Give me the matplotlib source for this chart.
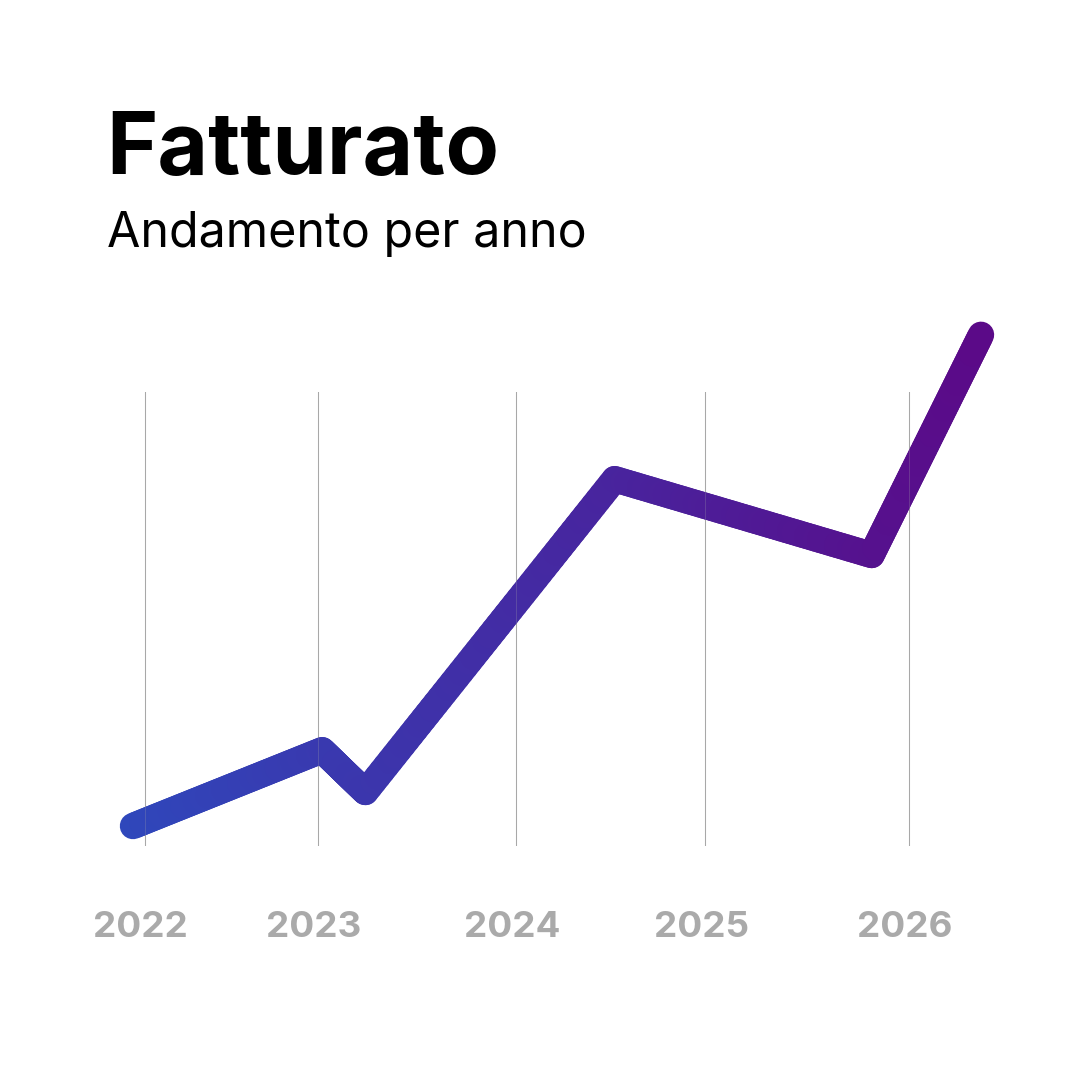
import numpy as np
import matplotlib.pyplot as plt
import matplotlib.transforms as mtransforms
from matplotlib.collections import LineCollection
from matplotlib.colors import LinearSegmentedColormap

# data (arbitrary units)
x_pts = [0.0, 22.3, 27.4, 56.8, 87.1, 100.0]
y_pts = [4.4, 21.1, 11.9, 80.8, 64.1, 112.6]
tick_pos = [1.4, 21.8, 45.2, 67.5, 91.5]
tick_lbl = ['2022', '2023', '2024', '2025', '2026']

title = 'Fatturato'
subtitle = 'Andamento per anno'

plt.rcParams['font.family'] = ['Inter', 'DejaVu Sans']

W = 1074
fig = plt.figure(figsize=(W / 100, W / 100), dpi=100)
fig.patch.set_facecolor('white')

# axes placed so the grid runs from y=392 to y=846 px
ax = fig.add_axes([133 / W, (W - 846) / W, 848 / W, 454 / W])
ax.set_xlim(0, 100)
ax.set_ylim(0, 100)
for s in ax.spines.values():
    s.set_visible(False)
ax.set_yticks([])
ax.set_xticks(tick_pos, tick_lbl)
ax.tick_params(axis='x', length=0, pad=47, labelsize=26.5, labelcolor='#aaaaaa')
shift = mtransforms.ScaledTranslation(-4 / 100, 0, fig.dpi_scale_trans)
for lab in ax.get_xticklabels():
    lab.set_fontweight('bold')
    lab.set_transform(lab.get_transform() + shift)
ax.grid(axis='x', color='#a8a8a8', linewidth=0.75)
ax.set_axisbelow(True)

# gradient line: split each segment into small pieces coloured by x
cmap = LinearSegmentedColormap.from_list('grad', ['#2f47bb', '#5b0a88'])
segs = []
cols = []
n = 60
for i in range(len(x_pts) - 1):
    xs = np.linspace(x_pts[i], x_pts[i + 1], n + 1)
    ys = np.linspace(y_pts[i], y_pts[i + 1], n + 1)
    for j in range(n):
        segs.append([(xs[j], ys[j]), (xs[j + 1], ys[j + 1])])
        cols.append(cmap((xs[j] + xs[j + 1]) / 2 / 100))
lc = LineCollection(segs, colors=cols, linewidths=19, capstyle='round',
                    joinstyle='round', clip_on=False, zorder=3)
ax.add_collection(lc)

# faint grid showing through the line
for t in tick_pos:
    ax.plot([t, t], [0, 100], color='#a8a8a8', lw=0.75, alpha=0.25, zorder=4)

fig.text(106 / W, 1 - 174 / W, title, fontsize=63, fontweight='bold',
         color='black', va='baseline', ha='left')
fig.text(107 / W, 1 - 247 / W, subtitle, fontsize=34.8, color='black',
         va='baseline', ha='left')

fig.savefig('out.png', dpi=100, facecolor='white')
